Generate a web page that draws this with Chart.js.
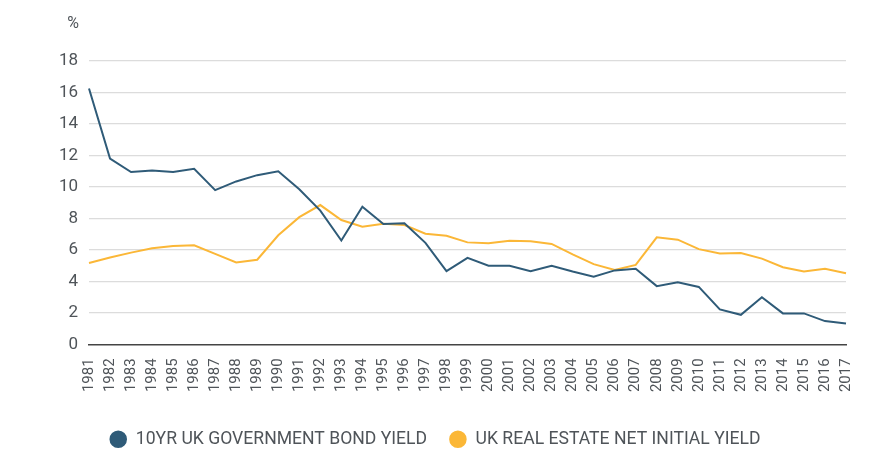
<!DOCTYPE html>
<html>
<head>
<meta charset="utf-8">
<script src="https://cdn.jsdelivr.net/npm/chart.js@4"></script>
<style>
  html, body { margin: 0; padding: 0; background: #fff; }
  #wrap { width: 870px; height: 459px; }
</style>
</head>
<body>
<div id="wrap"><canvas id="chart" width="870" height="459"></canvas></div>
<script>
const YEARS = [
  "1981", "1982", "1983", "1984", "1985", "1986", "1987", "1988", "1989", "1990",
  "1991", "1992", "1993", "1994", "1995", "1996", "1997", "1998", "1999", "2000",
  "2001", "2002", "2003", "2004", "2005", "2006", "2007", "2008", "2009", "2010",
  "2011", "2012", "2013", "2014", "2015", "2016", "2017"
];

const BOND_YIELD = [
  16.25, 11.8, 10.95, 11.05, 10.95, 11.15, 9.8, 10.35, 10.75, 11.0,
  9.85, 8.5, 6.6, 8.75, 7.65, 7.7, 6.45, 4.65, 5.5, 5.0,
  5.0, 4.65, 5.0, 4.63, 4.3, 4.7, 4.8, 3.7, 3.95, 3.65,
  2.22, 1.88, 3.0, 1.97, 1.97, 1.48, 1.32
];

const PROPERTY_YIELD = [
  5.17, 5.52, 5.83, 6.1, 6.25, 6.3, 5.75, 5.2, 5.38, 6.93,
  8.08, 8.85, 7.9, 7.48, 7.66, 7.58, 7.03, 6.9, 6.48, 6.42,
  6.58, 6.55, 6.38, 5.72, 5.1, 4.72, 5.05, 6.8, 6.65, 6.05,
  5.77, 5.81, 5.45, 4.9, 4.63, 4.8, 4.52
];

const SERIES_NAMES = ["10YR UK GOVERNMENT BOND YIELD", "UK REAL ESTATE NET INITIAL YIELD"];

const BLUE = "#2f5b78";
const ORANGE = "#fbb737";
const TEXT = "#4f5459";
const FONT = "Roboto, 'DejaVu Sans', sans-serif";

// the "%" unit sits above the y labels
const unitLabel = {
  id: "unitLabel",
  afterDraw(chart) {
    const ctx = chart.ctx;
    const y = chart.scales.y;
    ctx.save();
    ctx.font = "16px " + FONT;
    ctx.fillStyle = TEXT;
    ctx.textAlign = "right";
    ctx.textBaseline = "middle";
    ctx.fillText("%", y.right - 10, 24);
    ctx.restore();
  }
};

new Chart(document.getElementById("chart"), {
  type: "line",
  data: {
    labels: YEARS,
    datasets: [
      {
        label: SERIES_NAMES[0],
        data: BOND_YIELD,
        borderColor: BLUE,
        backgroundColor: BLUE,
        borderWidth: 2,
        pointRadius: 0,
        tension: 0
      },
      {
        label: SERIES_NAMES[1],
        data: PROPERTY_YIELD,
        borderColor: ORANGE,
        backgroundColor: ORANGE,
        borderWidth: 2,
        pointRadius: 0,
        tension: 0
      }
    ]
  },
  options: {
    responsive: false,
    animation: false,
    layout: { padding: { top: 61, right: 22, bottom: 1, left: 22 } },
    plugins: {
      legend: {
        position: "bottom",
        labels: {
          usePointStyle: true,
          pointStyle: "circle",
          boxHeight: 11,
          color: TEXT,
          font: { family: FONT, size: 17.6 },
          padding: 22
        }
      },
      tooltip: { enabled: false }
    },
    scales: {
      x: {
        grid: { display: false },
        border: { display: true, color: "#444", width: 1.5 },
        ticks: {
          autoSkip: false,
          minRotation: 90,
          maxRotation: 90,
          color: TEXT,
          padding: 6,
          font: { family: FONT, size: 15 }
        },
        afterFit(scale) { scale.height = 64; }
      },
      y: {
        min: 0,
        max: 18,
        border: { display: false },
        grid: {
          drawTicks: false,
          color: ctx => ctx.tick.value === 0 ? "rgba(0,0,0,0)" : "#dcdcdc",
          lineWidth: 1.2
        },
        ticks: {
          stepSize: 2,
          color: TEXT,
          padding: 11,
          font: { family: FONT, size: 17 }
        },
        afterFit(scale) { scale.width = 67; }
      }
    }
  },
  plugins: [unitLabel]
});
</script>
</body>
</html>
